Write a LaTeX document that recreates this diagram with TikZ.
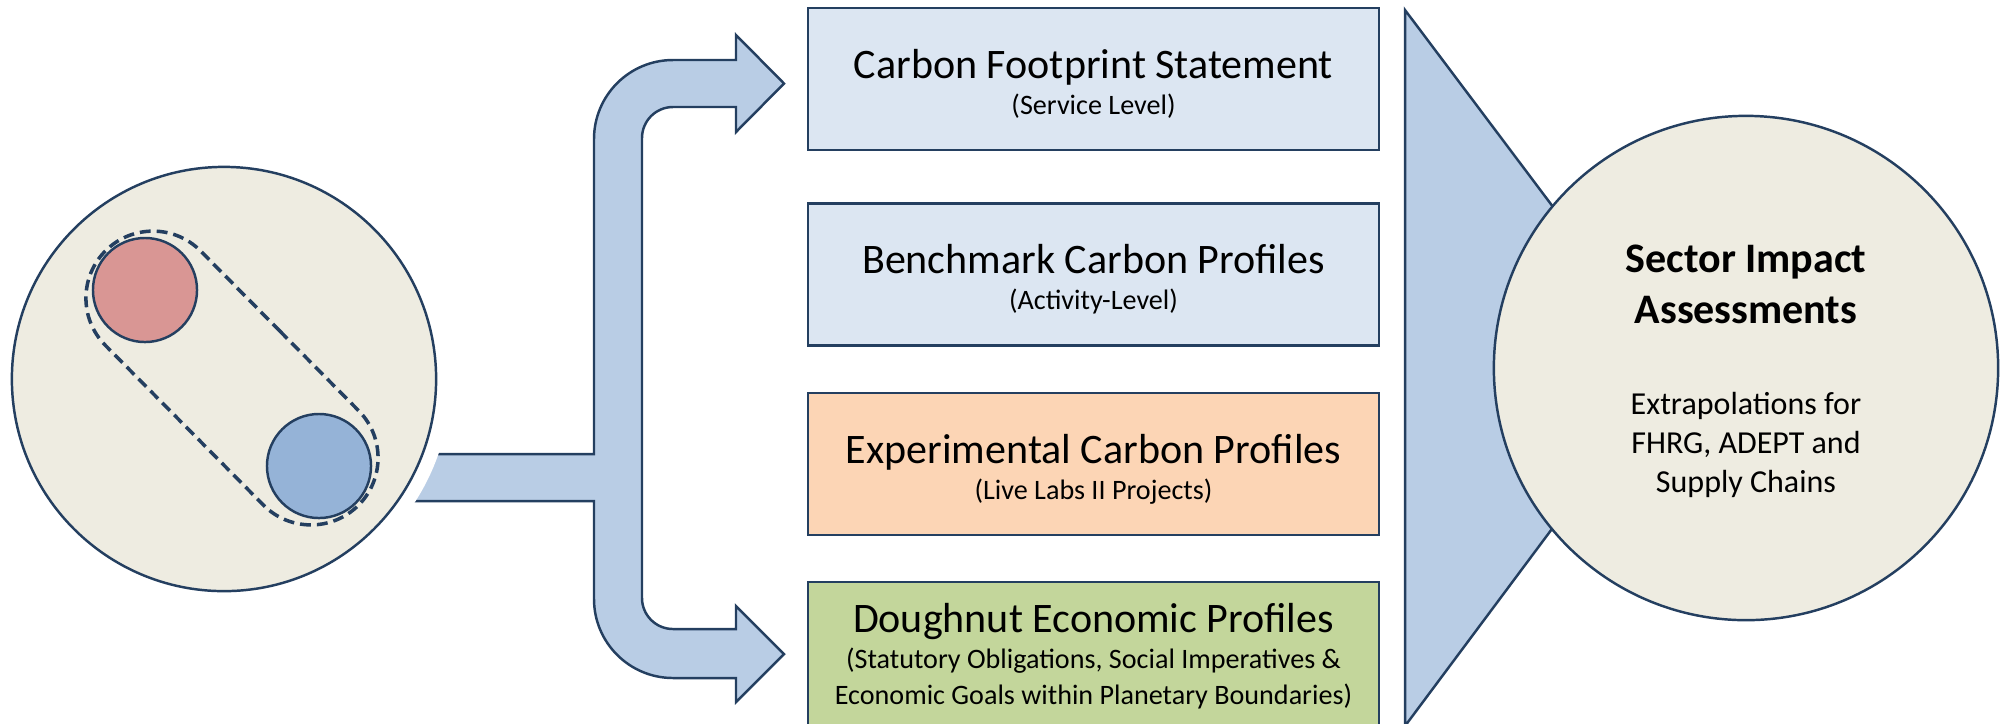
\documentclass[tikz,border=0pt]{standalone}
\usepackage{fontspec}
\setmainfont{Carlito}
\usetikzlibrary{shapes.misc}

\definecolor{navy}{HTML}{243F60}
\definecolor{paleblue}{HTML}{DCE6F2}
\definecolor{paleorange}{HTML}{FCD5B5}
\definecolor{palegreen}{HTML}{C3D69B}
\definecolor{flowblue}{HTML}{B9CDE5}
\definecolor{sand}{HTML}{EEECE1}
\definecolor{rose}{HTML}{D99694}
\definecolor{steel}{HTML}{95B3D7}

\tikzset{
  panel/.style={draw=navy, line width=0.7pt, rectangle, inner sep=0pt,
    minimum width=5.71cm, minimum height=1.42cm},
  paneltext/.style={anchor=base, align=center, inner sep=0pt,
    font=\fontsize{8}{10.2}\selectfont},
  disc/.style={circle, draw=navy, line width=0.7pt, inner sep=0pt},
  flow/.style={fill=flowblue, draw=navy, line width=0.7pt, line join=miter},
}
\newcommand{\ptitle}[1]{{\fontsize{11.95}{10.2}\selectfont #1}}

\begin{document}
\begin{tikzpicture}[x=0.01cm, y=-0.01cm]
\useasboundingbox (0,0) rectangle (2006,723);
\draw [flow] (400,454) -- (594,454) -- (594,139) arc[start angle=180, end angle=270, radius=79]
  -- (736,60) -- (736,35) -- (784,83.5) -- (736,132) -- (736,107) -- (673,107)
  arc[start angle=270, end angle=180, radius=31] -- (642,598)
  arc[start angle=180, end angle=90, radius=31]
  -- (736,629) -- (736,606) -- (784,654) -- (736,702) -- (736,678) -- (673,678)
  arc[start angle=90, end angle=180, radius=79] -- (594,501) -- (400,501) -- cycle;
\node [disc, fill=sand, minimum size=4.24cm, preaction={draw=white, line width=0.3cm}] (source) at (224,379) {};
\node [rounded rectangle, draw=navy, line width=1pt, dash pattern=on 3.1pt off 1.7pt,
  minimum width=3.82cm, minimum height=1.34cm, rotate=-45.3] (pair) at (232,378) {};
\node [disc, fill=rose, minimum size=1.04cm] (red) at (145,290) {};
\node [disc, fill=steel, minimum size=1.04cm] (blue) at (319,466) {};
\node [panel, fill=paleblue] (footprint) at (1093.5,79) {};
\node [paneltext] (footprinttxt) at (1093.5,114) {\ptitle{Carbon Footprint Statement}\\(Service Level)};
\node [panel, fill=paleblue] (benchmark) at (1093.5,274.5) {};
\node [paneltext] (benchmarktxt) at (1093.5,309) {\ptitle{Benchmark Carbon Profiles}\\(Activity-Level)};
\node [panel, fill=paleorange] (experimental) at (1093.5,464) {};
\node [paneltext] (experimentaltxt) at (1093.5,499) {\ptitle{Experimental Carbon Profiles}\\(Live Labs II Projects)};
\node [panel, fill=palegreen, minimum height=1.6cm] (doughnut) at (1093.5,662) {};
\node [paneltext] (doughnuttxt) at (1093.5,704) {\ptitle{Doughnut Economic Profiles}\\(Statutory Obligations, Social Imperatives \&\\Economic Goals within Planetary Boundaries)};
\draw [flow] (1405,10) -- (1673,366.5) -- (1405,726) -- cycle;
\node [disc, fill=sand, minimum size=5.04cm] (sector) at (1746,368) {};
\node [anchor=base, align=center, inner sep=0pt, font=\fontsize{11.95}{14.5}\selectfont\bfseries] (sectortitle) at (1746,323) {Sector Impact\\Assessments};
\node [anchor=base, align=center, inner sep=0pt, font=\fontsize{9.1}{11}\selectfont] (sectortxt) at (1746,492) {Extrapolations for\\FHRG, ADEPT and\\Supply Chains};
\end{tikzpicture}
\end{document}
